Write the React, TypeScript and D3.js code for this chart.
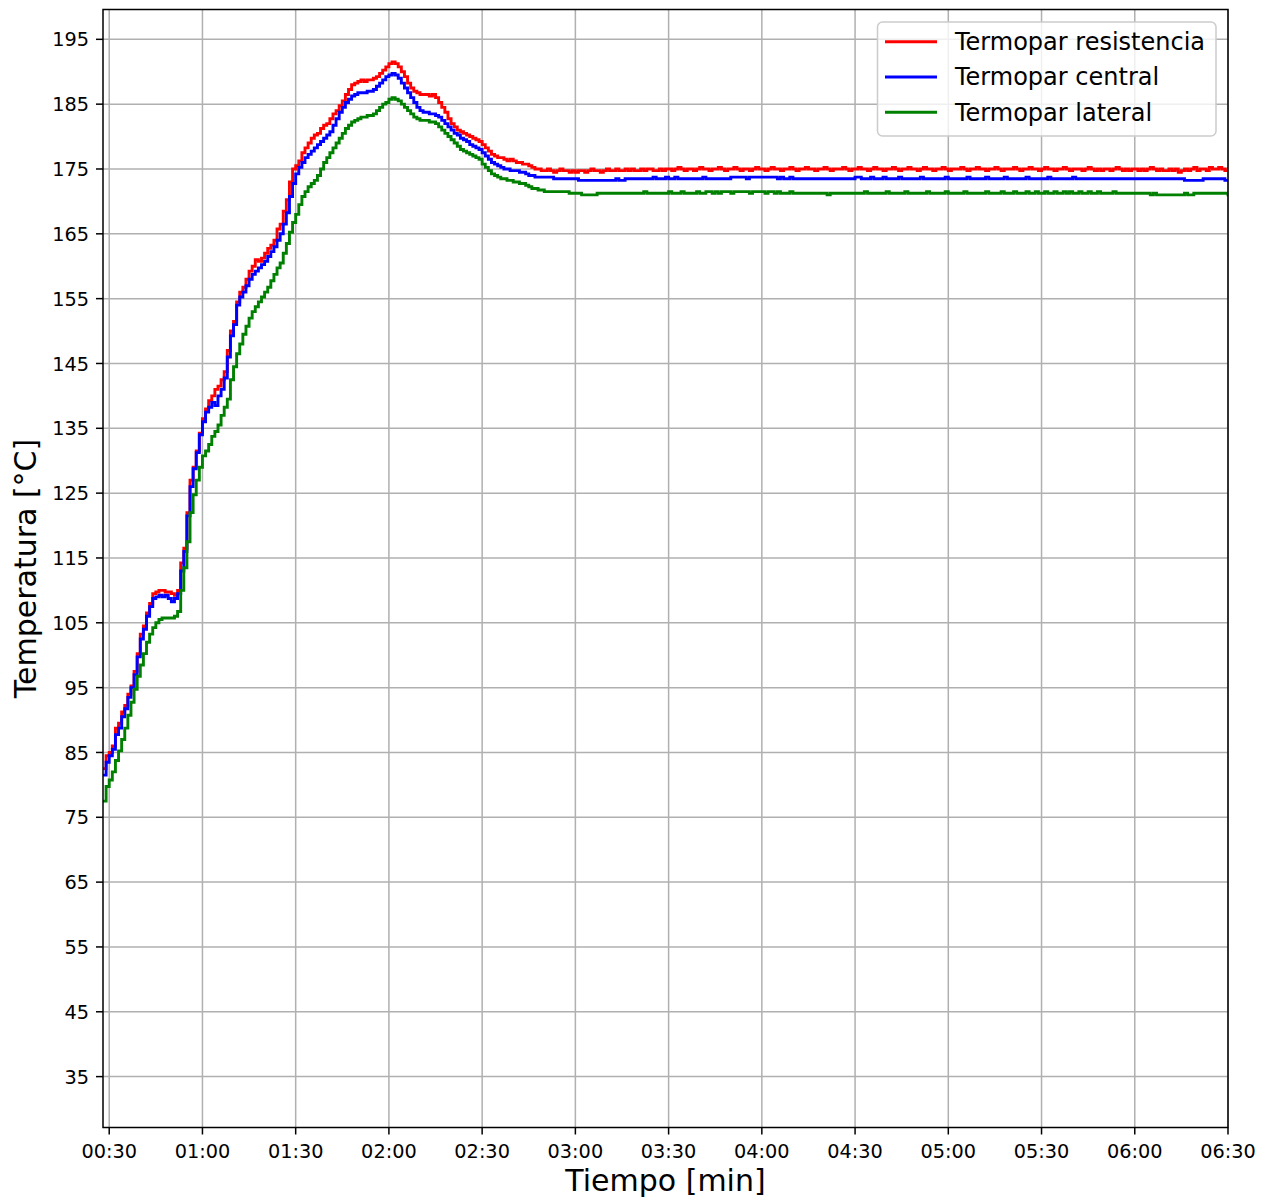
import React from "react";
import * as d3 from "d3";

// Thermocouple log, one reading per second starting at t = 28 s
const TIME_START = 28;
const SAMPLE_STEP = 1;

// Termopar resistencia [°C]
const resistencia = [
  82.5, 84.5, 85.0, 86.0, 88.75, 89.5, 91.25, 92.25, 94.0, 95.25,
  97.5, 100.25, 103.25, 104.5, 106.5, 108.0, 109.5, 109.75, 110.0, 110.0,
  109.75, 109.75, 109.5, 109.25, 110.0, 114.25, 116.5, 122.0, 127.0, 129.0,
  131.5, 134.25, 136.5, 138.0, 139.25, 140.0, 141.0, 141.5, 142.5, 143.75,
  147.0, 150.0, 151.5, 154.5, 156.0, 156.75, 158.0, 159.25, 160.0, 161.0,
  160.75, 161.25, 162.0, 162.75, 163.25, 164.0, 165.75, 166.5, 168.5, 170.25,
  173.0, 175.0, 175.5, 176.25, 177.5, 178.25, 179.0, 179.75, 180.25, 180.5,
  181.25, 181.75, 182.0, 182.75, 183.5, 184.0, 184.75, 185.5, 186.5, 187.25,
  188.0, 188.25, 188.5, 188.75, 188.5, 188.75, 188.75, 189.0, 189.25, 189.75,
  190.25, 190.75, 191.25, 191.5, 191.25, 190.75, 190.0, 189.25, 188.25, 187.5,
  187.0, 186.75, 186.5, 186.5, 186.5, 186.25, 186.5, 186.0, 185.25, 184.5,
  183.75, 182.75, 182.0, 181.5, 181.0, 180.75, 180.5, 180.25, 180.0, 179.75,
  179.5, 179.25, 178.75, 178.25, 177.75, 177.25, 177.0, 176.75, 176.75, 176.5,
  176.25, 176.5, 176.25, 176.0, 176.0, 175.75, 175.75, 175.5, 175.25, 175.0,
  175.0, 174.75, 174.75, 175.0, 174.75, 174.5, 174.75, 175.0, 174.75, 174.75,
  174.5, 174.75, 174.5, 174.75, 174.75, 174.5, 174.75, 175.0, 174.75, 174.75,
  174.5, 174.75, 175.0, 174.75, 174.75, 175.0, 174.75, 174.75, 175.0, 174.75,
  175.0, 174.75, 174.75, 175.0, 174.75, 175.0, 175.0, 174.75, 174.75, 175.0,
  174.75, 175.0, 175.0, 174.75, 175.0, 175.25, 175.0, 174.75, 175.0, 175.0,
  174.75, 175.0, 175.25, 175.0, 175.0, 174.75, 175.0, 175.0, 175.25, 175.0,
  174.75, 175.0, 175.0, 175.25, 175.0, 174.75, 175.0, 175.0, 174.75, 175.0,
  175.25, 175.0, 175.0, 174.75, 175.0, 175.25, 175.0, 175.0, 174.75, 175.0,
  175.0, 175.25, 175.0, 174.75, 175.0, 175.0, 175.25, 175.0, 175.0, 174.75,
  175.0, 175.0, 175.25, 175.0, 174.75, 175.0, 175.0, 175.0, 175.25, 175.0,
  174.75, 175.0, 175.0, 175.25, 175.0, 175.0, 174.75, 175.0, 175.25, 175.0,
  175.0, 174.75, 175.0, 175.0, 175.25, 175.0, 174.75, 175.0, 175.0, 175.25,
  175.0, 175.0, 174.75, 175.0, 175.25, 175.0, 175.0, 174.75, 175.0, 175.0,
  175.25, 175.0, 174.75, 175.0, 175.0, 175.0, 175.25, 175.0, 174.75, 175.0,
  175.0, 175.25, 175.0, 175.0, 174.75, 175.0, 175.0, 175.25, 175.0, 174.75,
  175.0, 175.0, 175.0, 175.25, 175.0, 174.75, 175.0, 175.0, 175.25, 175.0,
  175.0, 174.75, 175.0, 175.25, 175.0, 175.0, 174.75, 175.0, 175.0, 175.25,
  175.0, 174.75, 175.0, 175.0, 175.0, 174.75, 175.0, 175.25, 175.0, 174.75,
  175.0, 174.75, 175.0, 175.0, 174.75, 175.0, 175.25, 175.0, 174.75, 175.0,
  174.75, 175.0, 175.0, 174.75, 175.0, 174.75, 175.0, 175.25, 175.0, 174.75,
  175.0, 174.75, 174.75, 175.0, 174.75, 175.0, 174.5, 174.75, 175.0, 174.75,
  175.0, 175.25, 174.75, 175.0, 175.0, 174.75, 175.25, 175.0, 175.0, 175.25,
  175.0, 174.75, 175.0,
];

// Termopar central [°C]
const central = [
  81.5, 83.5, 84.5, 85.5, 87.75, 88.75, 90.5, 91.75, 93.5, 95.0,
  97.0, 99.75, 102.5, 104.0, 106.0, 107.5, 108.75, 109.0, 109.25, 109.0,
  109.25, 108.75, 108.25, 108.75, 109.5, 113.0, 116.0, 121.5, 126.0, 128.75,
  131.25, 134.0, 136.0, 137.5, 138.25, 139.0, 138.5, 140.0, 141.0, 142.75,
  146.0, 149.25, 151.0, 154.0, 155.25, 156.0, 157.0, 158.0, 158.75, 159.25,
  159.75, 160.25, 160.75, 161.5, 162.25, 163.0, 164.0, 165.0, 166.5, 168.25,
  170.75, 172.75, 174.25, 175.25, 176.0, 176.75, 177.25, 177.75, 178.25, 178.75,
  179.25, 179.75, 180.25, 180.75, 181.75, 182.75, 183.75, 184.5, 185.25, 185.75,
  186.25, 186.5, 186.75, 186.75, 186.75, 187.0, 187.0, 187.25, 187.75, 188.25,
  188.75, 189.25, 189.5, 189.75, 189.5, 189.0, 188.25, 187.5, 186.75, 186.0,
  185.25, 184.5, 184.0, 183.75, 183.75, 183.5, 183.5, 183.25, 183.0, 182.5,
  182.0, 181.5, 181.0, 180.5, 180.25, 179.75, 179.5, 179.25, 178.75, 178.5,
  178.25, 178.0, 177.5, 177.0, 176.5, 176.0, 175.75, 175.5, 175.25, 175.0,
  175.0, 174.75, 174.75, 174.75, 174.5, 174.5, 174.25, 174.0, 174.0, 173.75,
  173.75, 173.75, 173.75, 173.75, 173.75, 173.5, 173.5, 173.5, 173.5, 173.5,
  173.5, 173.5, 173.5, 173.25, 173.25, 173.25, 173.25, 173.25, 173.25, 173.25,
  173.25, 173.25, 173.25, 173.25, 173.25, 173.5, 173.25, 173.25, 173.5, 173.5,
  173.5, 173.5, 173.5, 173.5, 173.5, 173.5, 173.5, 173.75, 173.5, 173.5,
  173.5, 173.75, 173.5, 173.5, 173.75, 173.5, 173.5, 173.5, 173.5, 173.5,
  173.5, 173.5, 173.5, 173.75, 173.5, 173.5, 173.5, 173.5, 173.5, 173.5,
  173.5, 173.5, 173.75, 173.75, 173.75, 173.75, 173.75, 173.5, 173.75, 173.75,
  173.75, 173.75, 173.75, 173.75, 173.75, 173.75, 173.75, 173.5, 173.75, 173.5,
  173.5, 173.75, 173.5, 173.5, 173.5, 173.5, 173.5, 173.5, 173.5, 173.5,
  173.5, 173.5, 173.5, 173.5, 173.5, 173.5, 173.5, 173.5, 173.5, 173.5,
  173.5, 173.5, 173.75, 173.75, 173.5, 173.5, 173.5, 173.75, 173.5, 173.5,
  173.5, 173.75, 173.5, 173.5, 173.5, 173.5, 173.75, 173.5, 173.5, 173.5,
  173.5, 173.5, 173.5, 173.75, 173.5, 173.5, 173.5, 173.5, 173.5, 173.5,
  173.5, 173.75, 173.5, 173.5, 173.5, 173.5, 173.5, 173.5, 173.75, 173.5,
  173.5, 173.5, 173.5, 173.5, 173.75, 173.5, 173.5, 173.5, 173.5, 173.5,
  173.75, 173.5, 173.5, 173.5, 173.5, 173.5, 173.5, 173.75, 173.5, 173.5,
  173.5, 173.5, 173.5, 173.5, 173.75, 173.5, 173.5, 173.5, 173.5, 173.5,
  173.5, 173.5, 173.75, 173.5, 173.5, 173.5, 173.5, 173.5, 173.5, 173.5,
  173.5, 173.5, 173.5, 173.5, 173.5, 173.5, 173.5, 173.5, 173.5, 173.5,
  173.5, 173.5, 173.5, 173.5, 173.5, 173.5, 173.5, 173.5, 173.5, 173.5,
  173.5, 173.5, 173.5, 173.5, 173.5, 173.5, 173.5, 173.5, 173.25, 173.25,
  173.25, 173.25, 173.25, 173.25, 173.5, 173.5, 173.5, 173.5, 173.5, 173.5,
  173.5, 173.25, 173.25,
];

// Termopar lateral [°C]
const lateral = [
  77.5, 79.75, 80.75, 82.0, 83.75, 85.25, 87.0, 88.75, 90.75, 92.75,
  94.75, 96.75, 98.5, 100.25, 102.0, 103.25, 104.25, 105.0, 105.5, 105.75,
  105.75, 105.75, 105.75, 106.0, 106.75, 110.0, 113.5, 117.5, 122.0, 124.75,
  127.0, 129.0, 130.75, 131.5, 132.5, 133.75, 134.5, 135.5, 137.0, 138.25,
  139.5, 142.5, 144.5, 146.5, 148.0, 149.5, 150.75, 152.0, 153.0, 153.75,
  154.5, 155.25, 156.0, 156.75, 157.75, 158.75, 159.75, 160.5, 162.0, 163.5,
  165.25, 166.75, 168.0, 169.5, 170.75, 171.5, 172.25, 172.75, 173.25, 174.0,
  175.0, 176.0, 176.75, 177.5, 178.25, 179.0, 179.75, 180.5, 181.25, 181.75,
  182.25, 182.5, 182.75, 183.0, 183.0, 183.25, 183.25, 183.5, 184.0, 184.5,
  185.0, 185.25, 185.75, 186.0, 185.75, 185.5, 185.0, 184.5, 184.0, 183.5,
  183.0, 182.75, 182.5, 182.5, 182.5, 182.25, 182.25, 182.0, 181.5, 181.0,
  180.5, 180.0, 179.5, 179.0, 178.5, 178.0, 177.75, 177.5, 177.25, 177.0,
  176.75, 176.5, 175.75, 175.25, 174.75, 174.25, 174.0, 173.75, 173.5, 173.5,
  173.25, 173.25, 173.0, 173.0, 172.75, 172.75, 172.5, 172.25, 172.0, 172.0,
  171.75, 171.75, 171.5, 171.5, 171.5, 171.5, 171.5, 171.5, 171.5, 171.5,
  171.25, 171.25, 171.25, 171.25, 171.0, 171.0, 171.0, 171.0, 171.0, 171.25,
  171.25, 171.25, 171.25, 171.25, 171.25, 171.25, 171.25, 171.25, 171.25, 171.25,
  171.25, 171.25, 171.25, 171.25, 171.5, 171.25, 171.25, 171.25, 171.25, 171.25,
  171.25, 171.25, 171.5, 171.25, 171.25, 171.25, 171.5, 171.25, 171.25, 171.25,
  171.25, 171.5, 171.25, 171.25, 171.5, 171.5, 171.25, 171.5, 171.25, 171.5,
  171.5, 171.5, 171.25, 171.5, 171.5, 171.5, 171.5, 171.5, 171.25, 171.5,
  171.5, 171.5, 171.5, 171.25, 171.5, 171.5, 171.25, 171.5, 171.25, 171.25,
  171.25, 171.5, 171.25, 171.25, 171.25, 171.25, 171.25, 171.25, 171.25, 171.25,
  171.25, 171.25, 171.25, 171.0, 171.25, 171.25, 171.25, 171.25, 171.25, 171.25,
  171.25, 171.25, 171.25, 171.25, 171.25, 171.5, 171.25, 171.25, 171.25, 171.25,
  171.25, 171.25, 171.5, 171.25, 171.25, 171.25, 171.25, 171.25, 171.5, 171.25,
  171.25, 171.25, 171.25, 171.25, 171.25, 171.5, 171.25, 171.25, 171.25, 171.25,
  171.25, 171.5, 171.25, 171.25, 171.25, 171.25, 171.25, 171.5, 171.25, 171.25,
  171.25, 171.25, 171.25, 171.25, 171.5, 171.25, 171.25, 171.25, 171.25, 171.5,
  171.25, 171.25, 171.25, 171.5, 171.25, 171.25, 171.25, 171.5, 171.25, 171.25,
  171.5, 171.25, 171.25, 171.5, 171.25, 171.25, 171.5, 171.25, 171.25, 171.5,
  171.25, 171.5, 171.25, 171.25, 171.5, 171.25, 171.25, 171.5, 171.25, 171.25,
  171.5, 171.25, 171.25, 171.25, 171.25, 171.5, 171.25, 171.25, 171.25, 171.25,
  171.25, 171.25, 171.25, 171.25, 171.25, 171.25, 171.25, 171.0, 171.25, 171.0,
  171.0, 171.0, 171.0, 171.0, 171.0, 171.0, 171.0, 171.0, 171.25, 171.0,
  171.0, 171.25, 171.25, 171.25, 171.25, 171.25, 171.25, 171.25, 171.25, 171.25,
  171.25, 171.25, 171.0,
];

const seriesNames = ["Termopar resistencia", "Termopar central", "Termopar lateral"];
const seriesColors = ["#ff0000", "#0000ff", "#008000"];

const yTicks = [35, 45, 55, 65, 75, 85, 95, 105, 115, 125, 135, 145, 155, 165, 175, 185, 195];
const xTicks = [30, 60, 90, 120, 150, 180, 210, 240, 270, 300, 330, 360, 390];

const xDomain = [28, 390];
const yDomain = [27.15, 199.6];

const FONT = "'DejaVu Sans', 'Liberation Sans', sans-serif";

function mmss(sec: number): string {
  const m = Math.floor(sec / 60);
  const s = sec % 60;
  return `${String(m).padStart(2, "0")}:${String(s).padStart(2, "0")}`;
}

export default function App() {
  const width = 1269;
  const height = 1200;
  const plot = { left: 103, right: 1228, top: 9.5, bottom: 1127.5 };

  const x = d3.scaleLinear().domain(xDomain).range([plot.left, plot.right]);
  const y = d3.scaleLinear().domain(yDomain).range([plot.bottom, plot.top]);

  const allSeries = [resistencia, central, lateral];
  const line = d3
    .line<[number, number]>()
    .x((d) => x(d[0]))
    .y((d) => y(d[1]))
    .curve(d3.curveStepAfter);

  const paths = allSeries.map((vals) =>
    line(vals.map((v, i) => [TIME_START + i * SAMPLE_STEP, v] as [number, number]))
  );

  const gridColor = "#b0b0b0";
  const legend = { x: 877.5, y: 22, w: 338.5, h: 114, rowH: 35.3 };

  return (
    <svg
      width={width}
      height={height}
      style={{ position: "absolute", left: 0, top: 0, background: "#fff" }}
      fontFamily={FONT}
    >
      <defs>
        <clipPath id="plotArea">
          <rect x={plot.left} y={plot.top} width={plot.right - plot.left} height={plot.bottom - plot.top} />
        </clipPath>
      </defs>
      <rect x={0} y={0} width={width} height={height} fill="#fff" />

      {/* grid */}
      <g stroke={gridColor} strokeWidth={1.5}>
        {xTicks.map((t) => (
          <line key={"gx" + t} x1={x(t)} x2={x(t)} y1={plot.top} y2={plot.bottom} />
        ))}
        {yTicks.map((t) => (
          <line key={"gy" + t} x1={plot.left} x2={plot.right} y1={y(t)} y2={y(t)} />
        ))}
      </g>

      {/* temperature traces */}
      <g clipPath="url(#plotArea)" fill="none" strokeWidth={2.9} strokeLinejoin="miter" strokeLinecap="square">
        {paths.map((p, i) => (
          <path key={seriesNames[i]} d={p || ""} stroke={seriesColors[i]} />
        ))}
      </g>

      {/* frame */}
      <rect
        x={plot.left}
        y={plot.top}
        width={plot.right - plot.left}
        height={plot.bottom - plot.top}
        fill="none"
        stroke="#000"
        strokeWidth={1.5}
      />

      {/* y axis */}
      <g>
        {yTicks.map((t) => (
          <g key={"yt" + t}>
            <line x1={plot.left - 7} x2={plot.left} y1={y(t)} y2={y(t)} stroke="#000" strokeWidth={1.5} />
            <text x={89} y={y(t)} dy="0.37em" textAnchor="end" fontSize={19.3} fill="#000">
              {t}
            </text>
          </g>
        ))}
      </g>

      {/* x axis */}
      <g>
        {xTicks.map((t) => (
          <g key={"xt" + t}>
            <line x1={x(t)} x2={x(t)} y1={plot.bottom} y2={plot.bottom + 7} stroke="#000" strokeWidth={1.5} />
            <text x={x(t)} y={1158.3} textAnchor="middle" fontSize={19.3} fill="#000">
              {mmss(t)}
            </text>
          </g>
        ))}
      </g>

      {/* axis titles */}
      <text x={(plot.left + plot.right) / 2} y={1191} textAnchor="middle" fontSize={30} fill="#000">
        Tiempo [min]
      </text>
      <text
        transform={`translate(36, ${(plot.top + plot.bottom) / 2}) rotate(-90)`}
        textAnchor="middle"
        fontSize={30}
        fill="#000"
      >
        Temperatura [°C]
      </text>

      {/* legend */}
      <g>
        <rect
          x={legend.x}
          y={legend.y}
          width={legend.w}
          height={legend.h}
          rx={5}
          ry={5}
          fill="#fff"
          fillOpacity={0.8}
          stroke="#cccccc"
          strokeWidth={1.5}
        />
        {seriesNames.map((name, i) => {
          const ly = 41.7 + i * legend.rowH;
          return (
            <g key={"lg" + name}>
              <line x1={885} x2={937} y1={ly} y2={ly} stroke={seriesColors[i]} strokeWidth={2.9} />
              <text x={955} y={ly} dy="0.35em" fontSize={24} fill="#000">
                {name}
              </text>
            </g>
          );
        })}
      </g>
    </svg>
  );
}
